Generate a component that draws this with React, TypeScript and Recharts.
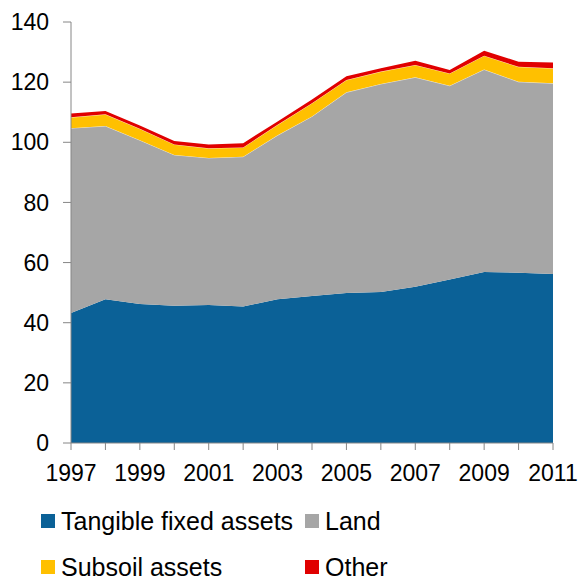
import { AreaChart, Area, XAxis, YAxis } from 'recharts'

const years = ['1997', '1998', '1999', '2000', '2001', '2002', '2003', '2004', '2005', '2006', '2007', '2008', '2009', '2010', '2011']
const tangible = [43.2, 47.8, 46.2, 45.6, 45.9, 45.4, 47.8, 48.9, 49.9, 50.2, 52.0, 54.4, 56.9, 56.6, 56.2]
const land = [61.5, 57.6, 54.5, 50.2, 48.9, 49.8, 54.5, 59.7, 66.7, 69.2, 69.6, 64.4, 67.3, 63.5, 63.4]
const subsoil = [3.6, 3.9, 3.8, 3.5, 3.2, 3.1, 3.5, 4.4, 4.1, 4.1, 4.1, 4.1, 4.6, 5.0, 5.0]
const other = [1.3, 1.1, 1.1, 1.1, 1.3, 1.4, 1.1, 1.2, 1.3, 1.1, 1.4, 1.1, 1.6, 1.7, 1.9]
const yTicks = [0, 20, 40, 60, 80, 100, 120, 140]

const data = years.map((year, i) => ({
  year,
  tangible: tangible[i],
  land: land[i],
  subsoil: subsoil[i],
  other: other[i]
}))

const font = '"Liberation Sans", Arial, sans-serif'
const axisColor = '#868686'

const legendItems = [
  { label: 'Tangible fixed assets', color: '#0B6197' },
  { label: 'Land', color: '#A6A6A6' },
  { label: 'Subsoil assets', color: '#FFC000' },
  { label: 'Other', color: '#E00000' }
]

function LegendBox() {
  return (
    <div
      style={{
        position: 'absolute',
        left: 41,
        top: 510,
        display: 'grid',
        gridTemplateColumns: '264px 240px',
        gridAutoRows: '22px',
        rowGap: 24,
        fontFamily: font,
        fontSize: 25,
        color: '#000',
        lineHeight: '22px'
      }}
    >
      {legendItems.map((item) => (
        <div key={item.label} style={{ display: 'flex', alignItems: 'center', height: 22 }}>
          <span style={{ width: 14, height: 14, background: item.color, marginRight: 6, flex: 'none' }} />
          <span style={{ whiteSpace: 'nowrap' }}>{item.label}</span>
        </div>
      ))}
    </div>
  )
}

export default function App() {
  return (
    <div style={{ position: 'absolute', left: 0, top: 0, width: 581, height: 578, background: '#fff', overflow: 'hidden' }}>
      <AreaChart width={581} height={578} data={data} margin={{ top: 22, right: 28, left: 0, bottom: 95 }}>
        <XAxis
          dataKey="year"
          height={40}
          interval={0}
          tickSize={7}
          tickMargin={15}
          stroke={axisColor}
          tick={{ fill: '#000', fontSize: 23, fontFamily: font }}
          tickFormatter={(v: string, i: number) => (i % 2 === 0 ? v : '')}
        />
        <YAxis
          width={71}
          domain={[0, 140]}
          ticks={yTicks}
          interval={0}
          tickSize={8}
          tickMargin={14}
          stroke={axisColor}
          tick={{ fill: '#000', fontSize: 23, fontFamily: font }}
        />
        <Area type="linear" dataKey="tangible" stackId="a" fill="#0B6197" fillOpacity={1} stroke="none" isAnimationActive={false} />
        <Area type="linear" dataKey="land" stackId="a" fill="#A6A6A6" fillOpacity={1} stroke="#ffffff" strokeWidth={0.6} isAnimationActive={false} />
        <Area type="linear" dataKey="subsoil" stackId="a" fill="#FFC000" fillOpacity={1} stroke="#ffffff" strokeWidth={0.6} isAnimationActive={false} />
        <Area type="linear" dataKey="other" stackId="a" fill="#E00000" fillOpacity={1} stroke="none" isAnimationActive={false} />
      </AreaChart>
      <LegendBox />
    </div>
  )
}
